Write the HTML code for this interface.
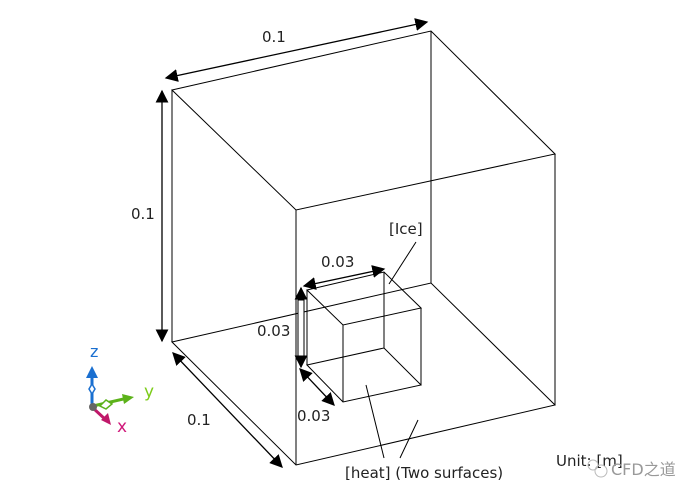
<!DOCTYPE html>
<html><head><meta charset="utf-8"><style>
html,body{margin:0;padding:0;background:#fff;}
svg{display:block;}
text{font-family:"DejaVu Sans","Liberation Sans","Noto Sans CJK SC",sans-serif;font-size:15px;fill:#222;}
</style></head><body>
<svg width="700" height="500" viewBox="0 0 700 500" xmlns="http://www.w3.org/2000/svg">
<defs>
<marker id="a" viewBox="0 0 10 10" refX="9" refY="5" markerWidth="10" markerHeight="10" markerUnits="userSpaceOnUse" orient="auto-start-reverse"><path d="M0,0L10,5L0,10z" fill="#000"/></marker>
<marker id="b" viewBox="0 0 10 10" refX="9" refY="5" markerWidth="13" markerHeight="13" markerUnits="userSpaceOnUse" orient="auto-start-reverse"><path d="M0,0L10,5L0,10z" fill="#000"/></marker>
</defs>
<g stroke="#000" stroke-width="1" fill="none">
<path d="M172,90L431,31L555,154L296,210Z"/>
<path d="M172,342L431,283L555,405L296,465Z"/>
<path d="M172,90V342M296,210V465M555,154V405M431,31V283"/>
<path d="M307,290L384,272L421,308L343,325Z"/>
<path d="M307,365L384,348L421,385L343,402Z"/>
<path d="M307,290V365M384,272V348M421,308V385M343,325V402"/>
<path d="M416,242L389,284M366,385L384,458M418,420L400,458"/>
</g>
<g stroke="#000" stroke-width="1.3" fill="none">
<path d="M166,78L427,22" marker-start="url(#b)" marker-end="url(#b)"/>
<path d="M162,91V341" marker-start="url(#b)" marker-end="url(#b)"/>
<path d="M173,353L282,467" marker-start="url(#b)" marker-end="url(#b)"/>
<path d="M304,286L384,269" marker-start="url(#b)" marker-end="url(#b)"/>
<path d="M301,288V367" marker-start="url(#b)" marker-end="url(#b)"/>
<path d="M300,369L334,405" marker-start="url(#b)" marker-end="url(#b)"/>
</g>
<rect x="298" y="300" width="6" height="56" fill="#fff" stroke="#000"/>
<text x="262" y="42">0.1</text>
<text x="131" y="219">0.1</text>
<text x="187" y="425">0.1</text>
<text x="321" y="267">0.03</text>
<text x="257" y="336">0.03</text>
<text x="297" y="421">0.03</text>
<text x="389" y="234">[Ice]</text>
<text x="345" y="478">[heat] (Two surfaces)</text>
<text x="556" y="466">Unit: [m]</text>
<text x="611" y="475" style="fill:#999;font-size:16px">CFD之道</text>
<circle cx="593" cy="465" r="5" fill="none" stroke="#bbb"/>
<circle cx="601" cy="471" r="6" fill="none" stroke="#bbb"/>
<g>
<path d="M92,406V374" stroke="#1a6fd0" stroke-width="3"/>
<path d="M86,378L92,366L98,378Z" fill="#1a6fd0"/>
<path d="M92,384L95,389L92,394L89,389Z" fill="#fff" stroke="#1a6fd0" stroke-width="1.5"/>
<path d="M93,406L128,398" stroke="#5cb21a" stroke-width="3"/>
<path d="M122,394L134,397L124,404Z" fill="#5cb21a"/>
<path d="M100,406L106,400L112,404L106,409Z" fill="#fff" stroke="#5cb21a" stroke-width="1.5"/>
<path d="M93,408L106,420" stroke="#c0186a" stroke-width="3"/>
<path d="M101,420L108,413L111,425Z" fill="#c0186a"/>
<circle cx="93" cy="407" r="4" fill="#666"/>
<text x="90" y="357" style="fill:#1a6fd0;font-size:16px">z</text>
<text x="144" y="397" style="fill:#7ccc1a;font-size:17px">y</text>
<text x="117" y="432" style="fill:#d0187a;font-size:17px">x</text>
</g>
</svg>
</body></html>
